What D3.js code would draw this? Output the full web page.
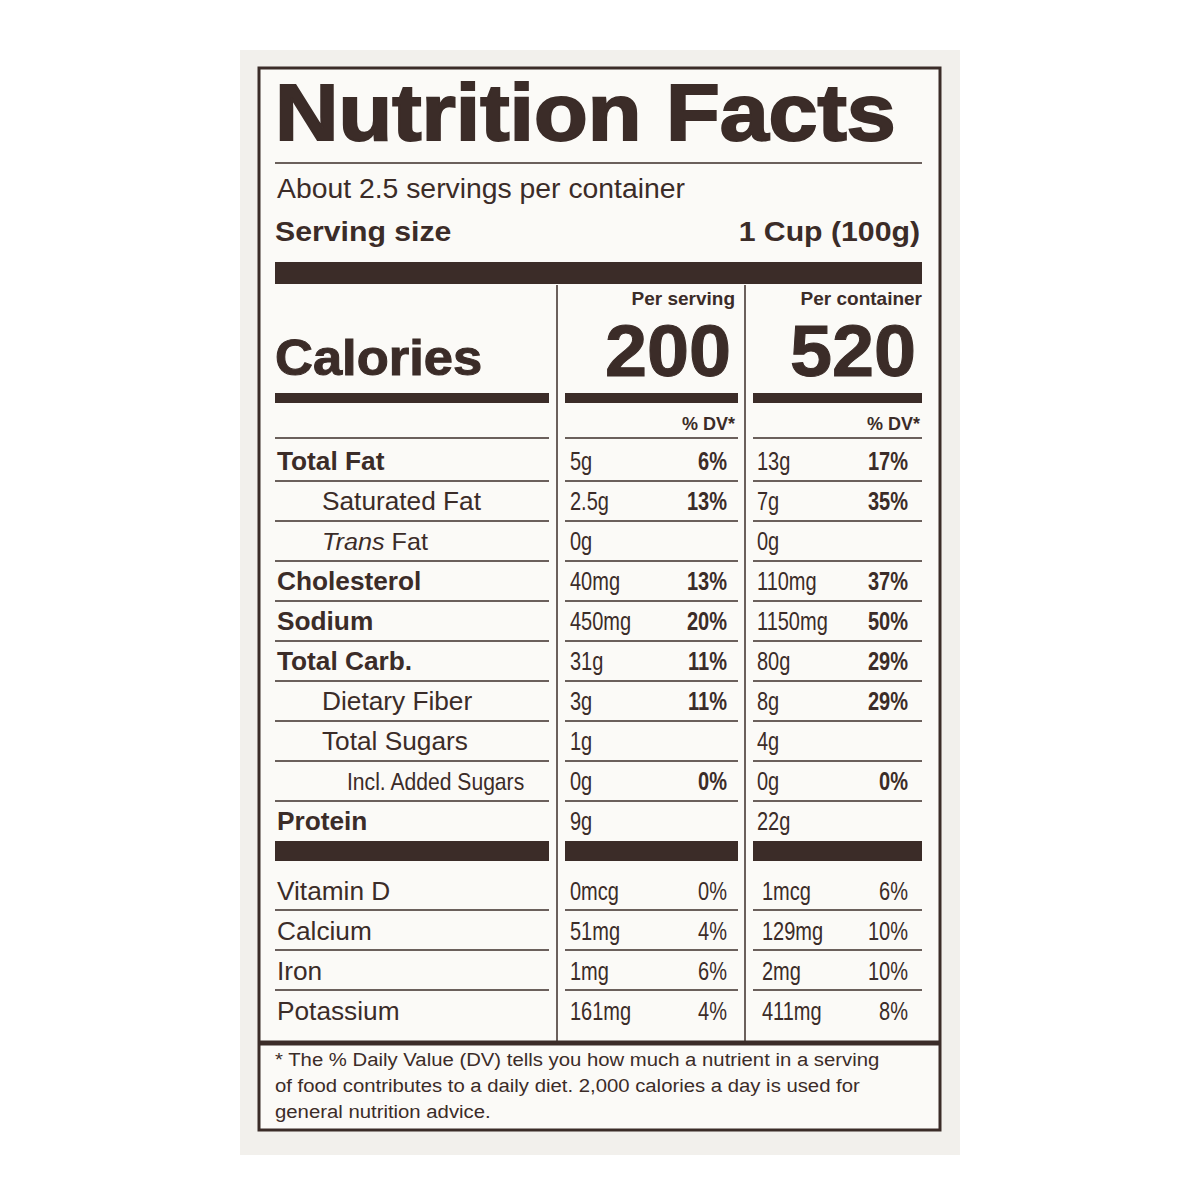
<!DOCTYPE html>
<html><head><meta charset="utf-8">
<script src="https://cdn.jsdelivr.net/npm/d3@7"></script>
<style>body{margin:0;background:#fff}</style>
</head><body><svg class="chart"></svg>
<script>
var ink = "#3b2c28";
var nutrients = ["Total Fat","Saturated Fat","Trans Fat","Cholesterol","Sodium","Total Carb.","Dietary Fiber","Total Sugars","Incl. Added Sugars","Protein"];
var indent = [0,1,1,0,0,0,1,1,2,0];
var bold = [1,0,0,1,1,1,0,0,0,1];
var servAmt = ["5g","2.5g","0g","40mg","450mg","31g","3g","1g","0g","9g"];
var servDV = ["6%","13%","","13%","20%","11%","11%","","0%",""];
var contAmt = ["13g","7g","0g","110mg","1150mg","80g","8g","4g","0g","22g"];
var contDV = ["17%","35%","","37%","50%","29%","29%","","0%",""];
var vitamins = ["Vitamin D","Calcium","Iron","Potassium"];
var vServAmt = ["0mcg","51mg","1mg","161mg"];
var vServDV = ["0%","4%","6%","4%"];
var vContAmt = ["1mcg","129mg","2mg","411mg"];
var vContDV = ["6%","10%","10%","8%"];
var footnote = ["* The % Daily Value (DV) tells you how much a nutrient in a serving",
  "of food contributes to a daily diet. 2,000 calories a day is used for",
  "general nutrition advice."];

var svg = d3.select(".chart").attr("width",1200).attr("height",1200);
svg.append("rect").attr("x",240).attr("y",50).attr("width",720).attr("height",1105).attr("fill","#f2f0ec");
svg.append("rect").attr("x",259).attr("y",68).attr("width",681).attr("height",1062)
  .attr("fill","#fbfaf7").attr("stroke",ink).attr("stroke-width",3);

var font = "Liberation Sans, Arial, sans-serif";
function txt(x,y,s,size,weight,anchor,sx){
  var t = svg.append("text").attr("transform","translate("+x+","+y+") scale("+(sx||1)+",1)")
    .attr("font-family",font).attr("font-size",size).attr("font-weight",weight||"normal")
    .attr("text-anchor",anchor||"start").attr("fill",ink).text(s);
  return t;
}
function hline(x1,x2,y,w){
  svg.append("line").attr("x1",x1).attr("x2",x2).attr("y1",y).attr("y2",y).attr("stroke",ink).attr("stroke-width",w);
}
var cols = [[275,549],[565,738],[753,922]];
function rowLine(y,w){ cols.forEach(function(c){ hline(c[0],c[1],y,w); }); }

txt(275,140,"Nutrition Facts",80,"900","start",1.1).attr("stroke",ink).attr("stroke-width",2);
hline(275,922,163,1.5);
txt(277,198,"About 2.5 servings per container",27,"normal","start",1.05);
txt(275,241,"Serving size",28,"bold","start",1.08);
txt(920,241,"1 Cup (100g)",28,"bold","end",1.08);
hline(275,922,273,22);

[557,745].forEach(function(x){
  svg.append("line").attr("x1",x).attr("x2",x).attr("y1",285).attr("y2",1045).attr("stroke",ink).attr("stroke-width",1.5);
});
txt(735,305,"Per serving",19,"bold","end");
txt(922,305,"Per container",19,"bold","end");
txt(275,375,"Calories",50,"900","start",1.05).attr("stroke",ink).attr("stroke-width",1);
txt(731,376,"200",72,"900","end",1.05).attr("stroke",ink).attr("stroke-width",1);
txt(916,376,"520",72,"900","end",1.05).attr("stroke",ink).attr("stroke-width",1);
rowLine(398,10);
txt(735,430,"% DV*",18,"bold","end");
txt(920,430,"% DV*",18,"bold","end");

var y = d3.scaleLinear().domain([0,1]).range([470,510]);
rowLine(438,1.5);
nutrients.forEach(function(n,i){
  var b = y(i);
  if(indent[i]==2) txt(347,b,n,24,"normal","start",0.88);
  else if(n=="Trans Fat"){
    var t = txt(322,b,"",24,"normal","start",1.05);
    t.append("tspan").attr("font-style","italic").text("Trans");
    t.append("tspan").text(" Fat");
  } else txt(indent[i]?322:277,b,n,25,bold[i]?"900":"normal","start",1.05);
  txt(570,b,servAmt[i],25,"normal","start",0.8);
  txt(727,b,servDV[i],25,"bold","end",0.8);
  txt(757,b,contAmt[i],25,"normal","start",0.8);
  txt(908,b,contDV[i],25,"bold","end",0.8);
  if(i<nutrients.length-1) rowLine(b+11,1.5);
});
rowLine(851,20);

var yv = d3.scaleLinear().domain([0,1]).range([900,940]);
vitamins.forEach(function(n,i){
  var b = yv(i);
  txt(277,b,n,25,"normal","start",1.05);
  txt(570,b,vServAmt[i],25,"normal","start",0.8);
  txt(727,b,vServDV[i],25,"normal","end",0.8);
  txt(762,b,vContAmt[i],25,"normal","start",0.8);
  txt(908,b,vContDV[i],25,"normal","end",0.8);
  if(i<vitamins.length-1) rowLine(b+10,1.5);
});
hline(259,940,1043,5);
footnote.forEach(function(s,i){ txt(275,1066+i*26,s,19,"normal","start",1.07); });
</script></body></html>
